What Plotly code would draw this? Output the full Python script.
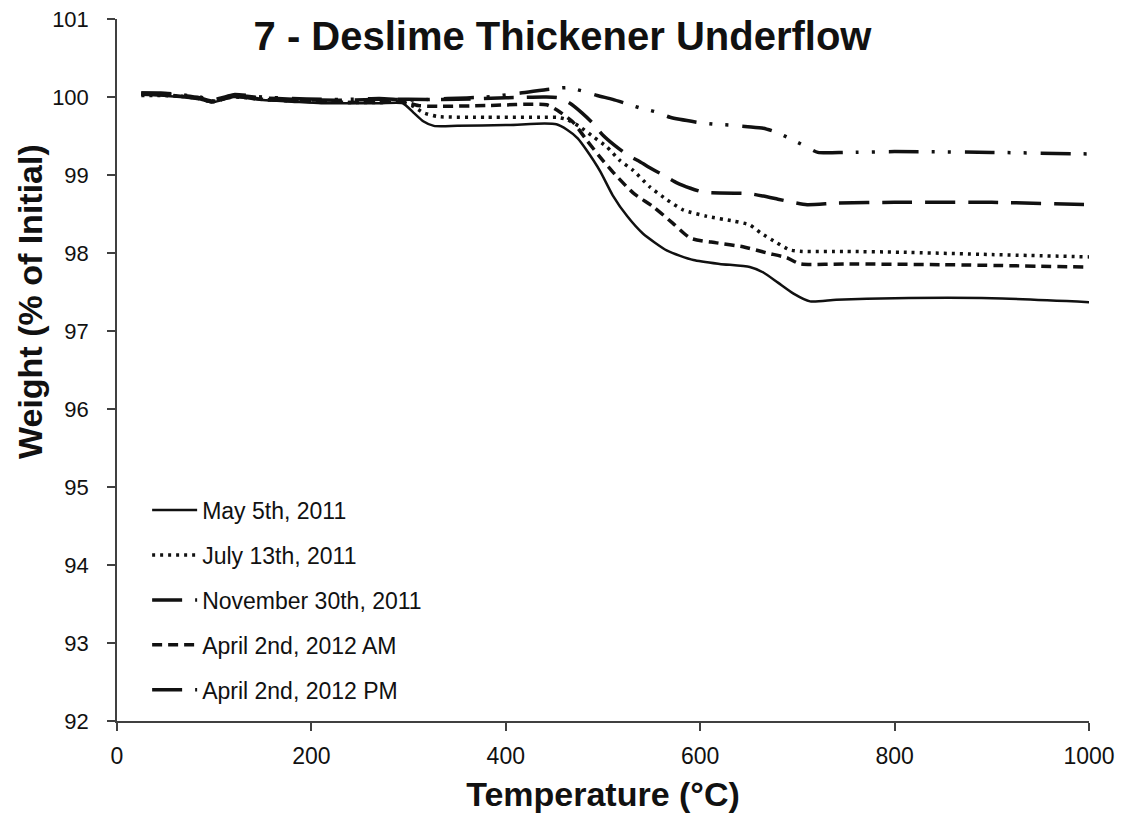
import plotly.graph_objects as go

# Thermogravimetric curves, 7 - Deslime Thickener Underflow
may_T = [25, 45, 65, 85, 97, 108, 120, 150, 180, 210, 240, 270, 294, 305, 315, 326, 350, 400, 440, 452,
         463, 474, 483, 497, 510, 525, 541, 566, 593, 620, 651, 665, 680, 696, 713, 740, 800, 900, 1000]
may_W = [100.03, 100.02, 100.0, 99.97, 99.93, 99.96, 100.0, 99.96, 99.94, 99.92, 99.92, 99.92, 99.92,
         99.80, 99.69, 99.63, 99.63, 99.64, 99.66, 99.65, 99.58, 99.47, 99.32, 99.05, 98.74, 98.47, 98.25,
         98.03, 97.91, 97.86, 97.82, 97.75, 97.62, 97.48, 97.38, 97.40, 97.42, 97.42, 97.37]

jul_T = [25, 45, 65, 85, 97, 108, 120, 150, 180, 210, 240, 270, 295, 305, 315, 330, 380, 440, 453, 463,
         476, 490, 504, 517, 531, 548, 566, 583, 607, 634, 651, 662, 679, 692, 705, 750, 806, 900, 1000]
jul_W = [100.02, 100.02, 100.01, 99.98, 99.94, 99.97, 100.0, 99.97, 99.95, 99.94, 99.93, 99.93, 99.93,
         99.88, 99.80, 99.75, 99.74, 99.74, 99.74, 99.71, 99.62, 99.49, 99.36, 99.19, 99.06, 98.85, 98.68,
         98.55, 98.47, 98.41, 98.36, 98.26, 98.13, 98.04, 98.02, 98.02, 98.01, 97.98, 97.95]

nov_T = [25, 45, 65, 85, 97, 108, 120, 150, 180, 210, 240, 270, 300, 350, 400, 440, 455, 466, 478, 489,
         500, 512, 525, 538, 550, 562, 576, 590, 603, 620, 651, 665, 680, 695, 710, 741, 800, 900, 1000]
nov_W = [100.05, 100.04, 100.02, 99.99, 99.95, 99.98, 100.02, 99.99, 99.97, 99.96, 99.96, 99.97, 99.97,
         99.97, 99.99, 100.0, 99.99, 99.92, 99.80, 99.67, 99.51, 99.38, 99.26, 99.17, 99.08, 99.0, 98.90,
         98.83, 98.78, 98.77, 98.76, 98.73, 98.69, 98.65, 98.62, 98.64, 98.65, 98.65, 98.62]

am_T = [25, 45, 65, 85, 97, 108, 120, 150, 180, 210, 240, 270, 295, 310, 330, 380, 442, 453, 469, 483,
        497, 510, 531, 552, 572, 590, 617, 644, 669, 689, 703, 750, 850, 1000]
am_W = [100.04, 100.03, 100.01, 99.98, 99.94, 99.97, 100.01, 99.97, 99.95, 99.94, 99.93, 99.94, 99.94,
        99.89, 99.88, 99.89, 99.90, 99.83, 99.68, 99.45, 99.23, 99.04, 98.77, 98.59, 98.38, 98.19, 98.13,
        98.08, 98.00, 97.94, 97.86, 97.86, 97.85, 97.82]

pm_T = [25, 45, 65, 85, 97, 108, 120, 150, 180, 210, 240, 270, 300, 340, 380, 415, 445, 463, 478, 494,
        510, 523, 538, 554, 569, 600, 615, 630, 649, 665, 680, 692, 708, 721, 750, 800, 900, 1000]
pm_W = [100.05, 100.05, 100.03, 100.0, 99.96, 99.99, 100.03, 100.0, 99.98, 99.97, 99.97, 99.98, 99.96,
        99.98, 100.0, 100.05, 100.10, 100.12, 100.08, 100.02, 99.97, 99.92, 99.86, 99.81, 99.74, 99.67,
        99.65, 99.64, 99.62, 99.60, 99.54, 99.47, 99.37, 99.29, 99.29, 99.30, 99.29, 99.27]

series_names = ["May 5th, 2011", "July 13th, 2011", "November 30th, 2011",
                "April 2nd, 2012 AM", "April 2nd, 2012 PM"]

x_ticks = [0, 200, 400, 600, 800, 1000]
y_ticks = [92, 93, 94, 95, 96, 97, 98, 99, 100, 101]

FONT = "Liberation Sans, Arial, sans-serif"
INK = "#111111"
AXIS = "#404040"

traces = [
    (may_T, may_W, series_names[0], "solid", 2.5),
    (jul_T, jul_W, series_names[1], "3px,5px", 3.5),
    (nov_T, nov_W, series_names[2], "30px,13px", 3.5),
    (am_T, am_W, series_names[3], "10px,6px", 3.5),
    (pm_T, pm_W, series_names[4], "30px,13px,3px,13px,3px,14px", 3.5),
]

fig = go.Figure()
for i, (tx, wy, name, dash, w) in enumerate(traces):
    fig.add_trace(go.Scatter(
        x=tx, y=wy, name=name, mode="lines",
        line=dict(color=INK, width=w, dash=dash, shape="spline", smoothing=0.6),
        legendgroup=f"g{i}",
    ))

fig.update_layout(
    width=1125, height=813,
    margin=dict(l=117, r=36, t=19, b=92, autoexpand=False),
    paper_bgcolor="white", plot_bgcolor="white",
    font=dict(family=FONT, color=INK),
    title=dict(text="<b>7 - Deslime Thickener Underflow</b>",
               font=dict(size=40, family=FONT, color=INK),
               x=0.5, xanchor="center", xref="container",
               y=1 - 36 / 813, yanchor="middle", yref="container"),
    showlegend=True,
    legend=dict(x=0.031, y=0.331, xanchor="left", yanchor="top",
                font=dict(size=23, family=FONT, color=INK),
                bgcolor="rgba(0,0,0,0)", tracegroupgap=12, itemwidth=45,
                traceorder="grouped"),
    annotations=[dict(
        text="<b>Weight (% of Initial)</b>", textangle=-90,
        font=dict(size=34, family=FONT, color=INK),
        xref="paper", yref="paper", x=-87 / 972, y=(721 - 302) / 702,
        xanchor="center", yanchor="middle", showarrow=False,
    )],
)

fig.update_xaxes(
    range=[0, 1000], tickvals=x_ticks, ticktext=[str(v) for v in x_ticks],
    showgrid=False, zeroline=False, automargin=False,
    showline=True, linecolor=AXIS, linewidth=1.5,
    ticks="outside", ticklen=8, tickwidth=1.5, tickcolor=AXIS,
    ticklabelstandoff=6,
    tickfont=dict(size=23, family=FONT, color=INK),
    title=dict(text="<b>Temperature (°C)</b>", font=dict(size=34, family=FONT, color=INK), standoff=14),
)
fig.update_yaxes(
    range=[92, 101], tickvals=y_ticks, ticktext=[str(v) for v in y_ticks],
    showgrid=False, zeroline=False, automargin=False,
    showline=True, linecolor=AXIS, linewidth=1.5,
    ticks="outside", ticklen=8, tickwidth=1.5, tickcolor=AXIS,
    ticklabelstandoff=14,
    tickfont=dict(size=22, family=FONT, color=INK),
)

fig.write_html("out.html")
